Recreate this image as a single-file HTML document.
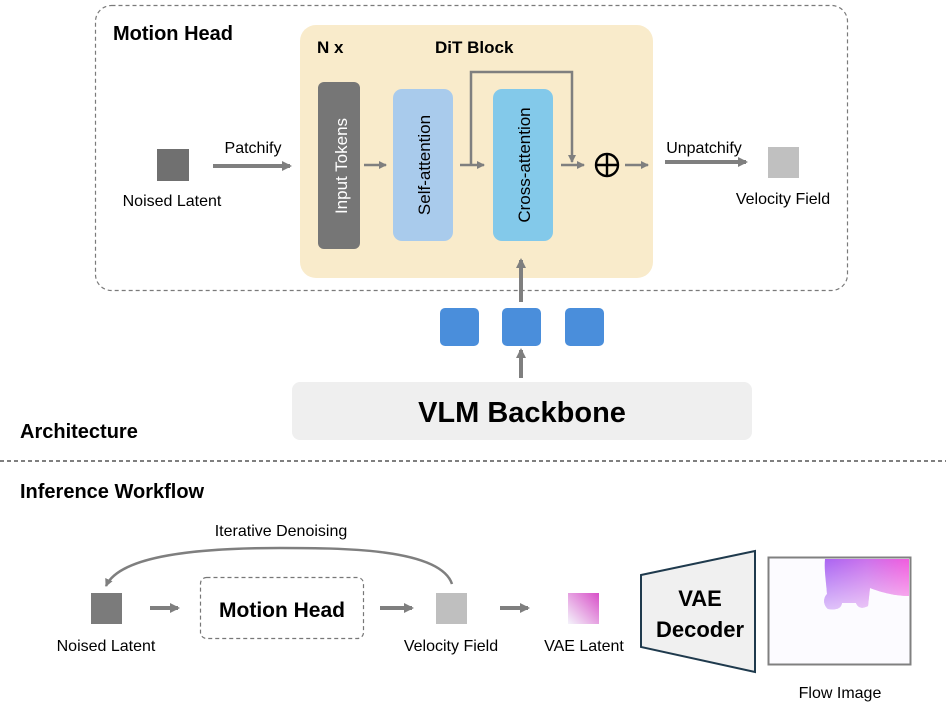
<!DOCTYPE html>
<html><head><meta charset="utf-8"><style>
html,body{margin:0;padding:0;background:#fff;}
svg{display:block;font-family:"Liberation Sans",sans-serif;}
</style></head><body>
<svg width="946" height="705" viewBox="0 0 946 705" xmlns="http://www.w3.org/2000/svg">
<defs>
<marker id="ah" markerWidth="10" markerHeight="10" refX="8" refY="5" orient="auto" markerUnits="userSpaceOnUse"><path d="M0,0 L10,5 L0,10 z" fill="#7f7f7f"/></marker>
<marker id="ahs" markerWidth="8" markerHeight="8" refX="7" refY="4" orient="auto" markerUnits="userSpaceOnUse"><path d="M0,0 L8,4 L0,8 z" fill="#7f7f7f"/></marker>
<linearGradient id="vg" x1="1" y1="0" x2="0" y2="1"><stop offset="0" stop-color="#d84fc8"/><stop offset="1" stop-color="#f4f4fb"/></linearGradient>
<linearGradient id="fl1" x1="0" y1="0" x2="1" y2="0"><stop offset="0" stop-color="#9a4af0"/><stop offset="0.5" stop-color="#c25ae8"/><stop offset="1" stop-color="#f040d8"/></linearGradient>
<linearGradient id="fade" x1="0" y1="0" x2="0" y2="1"><stop offset="0" stop-color="#fff" stop-opacity="0"/><stop offset="1" stop-color="#fff" stop-opacity="0.6"/></linearGradient>
</defs>
<rect x="95.5" y="5.5" width="752" height="285" rx="16" fill="none" stroke="#7a7a7a" stroke-width="1.2" stroke-dasharray="4,3"/>
<text x="113" y="40" font-size="20" font-weight="bold" fill="#000">Motion Head</text>
<rect x="300" y="25" width="353" height="253" rx="16" fill="#f9ebcb"/>
<text x="317" y="53" font-size="17" font-weight="bold">N x</text>
<text x="435" y="53" font-size="17" font-weight="bold">DiT Block</text>
<rect x="318" y="82" width="42" height="167" rx="6" fill="#767676"/>
<text transform="translate(347,166) rotate(-90)" text-anchor="middle" font-size="17" fill="#fff">Input Tokens</text>
<rect x="393" y="89" width="60" height="152" rx="9" fill="#a9cbec"/>
<text transform="translate(430,165) rotate(-90)" text-anchor="middle" font-size="17" fill="#000">Self-attention</text>
<rect x="493" y="89" width="60" height="152" rx="9" fill="#83c9ea"/>
<text transform="translate(530,165) rotate(-90)" text-anchor="middle" font-size="17" fill="#000">Cross-attention</text>
<g stroke="#7f7f7f" stroke-width="2.5" fill="none">
<line x1="364" y1="165" x2="386" y2="165" marker-end="url(#ahs)"/>
<line x1="460" y1="165" x2="484" y2="165" marker-end="url(#ahs)"/>
<line x1="561" y1="165" x2="584" y2="165" marker-end="url(#ahs)"/>
<line x1="625" y1="165" x2="648" y2="165" marker-end="url(#ahs)"/>
<polyline points="471,165 471,72 572,72 572,162" marker-end="url(#ahs)"/>
</g>
<circle cx="607" cy="165" r="11" fill="none" stroke="#000" stroke-width="2.4"/>
<line x1="596" y1="165" x2="618" y2="165" stroke="#000" stroke-width="2.4"/>
<line x1="607" y1="154" x2="607" y2="176" stroke="#000" stroke-width="2.4"/>
<rect x="157" y="149" width="32" height="32" fill="#707070"/>
<text x="172" y="206" text-anchor="middle" font-size="16">Noised Latent</text>
<line x1="213" y1="166" x2="290" y2="166" stroke="#7f7f7f" stroke-width="4" marker-end="url(#ah)"/>
<text x="253" y="153" text-anchor="middle" font-size="16">Patchify</text>
<line x1="665" y1="162" x2="746" y2="162" stroke="#7f7f7f" stroke-width="4" marker-end="url(#ah)"/>
<text x="704" y="153" text-anchor="middle" font-size="16">Unpatchify</text>
<rect x="768" y="147" width="31" height="31" fill="#c0c0c0"/>
<text x="783" y="204" text-anchor="middle" font-size="16">Velocity Field</text>
<rect x="440" y="308" width="39" height="38" rx="5" fill="#4a8edb"/>
<rect x="502" y="308" width="39" height="38" rx="5" fill="#4a8edb"/>
<rect x="565" y="308" width="39" height="38" rx="5" fill="#4a8edb"/>
<line x1="521" y1="302" x2="521" y2="260" stroke="#7f7f7f" stroke-width="4" marker-end="url(#ah)"/>
<line x1="521" y1="378" x2="521" y2="350" stroke="#7f7f7f" stroke-width="4" marker-end="url(#ah)"/>
<rect x="292" y="382" width="460" height="58" rx="8" fill="#efefef"/>
<text x="522" y="422" text-anchor="middle" font-size="29" font-weight="bold">VLM Backbone</text>
<text x="20" y="438" font-size="20" font-weight="bold">Architecture</text>
<line x1="0" y1="461" x2="946" y2="461" stroke="#333" stroke-width="1.2" stroke-dasharray="4,3"/>
<text x="20" y="498" font-size="20" font-weight="bold">Inference Workflow</text>
<text x="281" y="536" text-anchor="middle" font-size="16">Iterative Denoising</text>
<path d="M452,584 C440,548 340,548 280,548 C200,548 120,555 106,586" fill="none" stroke="#7f7f7f" stroke-width="2.5" marker-end="url(#ahs)"/>
<rect x="91" y="593" width="31" height="31" fill="#7b7b7b"/>
<text x="106" y="651" text-anchor="middle" font-size="16">Noised Latent</text>
<line x1="150" y1="608" x2="178" y2="608" stroke="#7f7f7f" stroke-width="4" marker-end="url(#ah)"/>
<rect x="200.5" y="577.5" width="163" height="61" rx="6" fill="none" stroke="#777" stroke-width="1.2" stroke-dasharray="4,3"/>
<text x="282" y="617" text-anchor="middle" font-size="21" font-weight="bold">Motion Head</text>
<line x1="380" y1="608" x2="412" y2="608" stroke="#7f7f7f" stroke-width="4" marker-end="url(#ah)"/>
<rect x="436" y="593" width="31" height="31" fill="#bfbfbf"/>
<text x="451" y="651" text-anchor="middle" font-size="16">Velocity Field</text>
<line x1="500" y1="608" x2="528" y2="608" stroke="#7f7f7f" stroke-width="4" marker-end="url(#ah)"/>
<rect x="568" y="593" width="31" height="31" fill="url(#vg)"/>
<text x="584" y="651" text-anchor="middle" font-size="16">VAE Latent</text>
<polygon points="641,575 755,551 755,672 641,647" fill="#f0f0f0" stroke="#1f3a4d" stroke-width="2"/>
<text x="700" y="606" text-anchor="middle" font-size="22" font-weight="bold">VAE</text>
<text x="700" y="637" text-anchor="middle" font-size="22" font-weight="bold">Decoder</text>
<rect x="768.5" y="557.5" width="142" height="107" fill="#fcfbff" stroke="#808080" stroke-width="2"/>
<path d="M825,559 L909,559 L909,596 C895,596 880,592 870,588 L868,606 C862,609 858,608 856,603 L842,603 C841,609 836,610 828,609 C823,605 823,598 827,594 C826,580 824,570 825,559 Z" fill="url(#fl1)" opacity="0.85"/>
<path d="M825,559 L909,559 L909,596 C895,596 880,592 870,588 L868,606 C862,609 858,608 856,603 L842,603 C841,609 836,610 828,609 C823,605 823,598 827,594 C826,580 824,570 825,559 Z" fill="url(#fade)"/>
<text x="840" y="698" text-anchor="middle" font-size="16">Flow Image</text>
</svg>
</body></html>
